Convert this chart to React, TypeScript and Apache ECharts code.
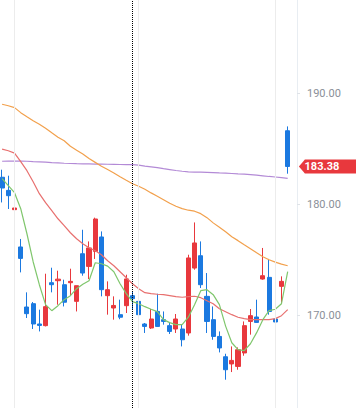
import React, { useEffect, useRef } from 'react';
import * as echarts from 'echarts';

// 48 slots: 47 trading days + 1 empty slot on the right
const categories: string[] = Array.from({ length: 48 }, (_, i) => `D${i + 1}`);

const opens = [182.41, 181.23, 179.49, 176.13, 170.72, 171.02, 169.19, 169.04, 172.91, 173.09,
  172.73, 172.91, 171.23, 175.52, 174.38, 175.73, 177.03, 171.74, 170.63, 170.03,
  170.84, 171.74, 171.23, 169.19, 168.83, 170.32, 169.58, 169.04, 168.74, 168.74,
  168.38, 174.23, 175.34, 171.68, 169.58, 168.07, 166.24, 165.59, 165.37, 166.58,
  169.42, 169.82, 173.24, 173.39, 169.64, 172.58, 186.60];
const closes = [181.44, 180.75, 179.64, 175.10, 170.12, 169.19, 169.06, 170.75, 172.73, 173.23,
  171.15, 173.03, 172.64, 173.78, 176.04, 178.65, 172.28, 172.28, 170.86, 169.80,
  173.25, 171.47, 170.03, 168.97, 169.64, 168.97, 169.42, 168.52, 169.64, 167.77,
  175.14, 176.49, 172.73, 169.42, 168.07, 167.03, 165.07, 165.91, 166.87, 169.04,
  169.94, 169.33, 173.54, 170.32, 169.37, 173.03, 183.38];
const highs = [183.09, 182.55, 180.45, 176.85, 172.04, 171.17, 170.48, 173.72, 174.26, 173.99,
  173.18, 174.17, 172.64, 177.68, 176.63, 178.77, 177.53, 173.03, 171.68, 171.38,
  173.63, 172.10, 171.38, 169.28, 170.54, 171.92, 170.32, 169.28, 170.09, 169.13,
  175.43, 178.34, 176.63, 173.78, 170.77, 168.52, 166.51, 167.17, 167.08, 169.42,
  170.54, 171.38, 176.04, 175.05, 171.92, 173.48, 186.99];
const lows = [180.14, 179.55, 177.39, 173.84, 169.73, 168.74, 168.52, 168.97, 172.04, 170.93,
  170.77, 171.74, 170.32, 173.54, 173.24, 175.05, 171.68, 170.03, 169.58, 169.62,
  170.18, 170.52, 169.58, 168.38, 168.74, 168.95, 169.13, 168.29, 168.38, 167.17,
  168.14, 174.08, 172.43, 168.38, 167.77, 166.63, 164.17, 164.86, 165.07, 166.33,
  168.23, 169.28, 173.18, 170.03, 169.13, 171.08, 182.73];

const ma5 = [182.28, 181.65, 181.02, 179.58, 177.32, 174.8, 172.73, 170.93, 170.39, 170.84,
  171.38, 171.74, 172.37, 172.77, 173.09, 174.71, 174.62, 174.4, 173.9, 172.82,
  171.92, 171.2, 171.02, 170.75, 170.52, 170.3, 169.58, 169.31, 169.13, 169.13,
  169.8, 170.93, 172.19, 172.28, 171.83, 170.93, 169.0, 167.5, 166.88, 166.79,
  167.41, 168.41, 169.58, 170.39, 170.52, 171.02, 173.9];
const ma20 = [184.94, 184.8, 184.58, 183.81, 183.0, 182.0, 180.93, 180.12, 179.4, 178.67,
  178.05, 177.41, 176.87, 176.42, 176.06, 175.79, 175.43, 174.89, 174.44, 173.9,
  173.36, 172.82, 172.37, 172.01, 171.92, 171.87, 171.83, 171.74, 171.65, 171.6,
  171.65, 171.69, 171.56, 171.29, 171.02, 170.57, 170.3, 170.03, 169.8, 169.67,
  169.58, 169.58, 169.58, 169.58, 169.67, 169.94, 170.48];
const ma60 = [188.99, 188.85, 188.68, 188.23, 187.86, 187.5, 187.19, 186.83, 186.42, 186.02,
  185.7, 185.2, 184.85, 184.5, 184.1, 183.75, 183.4, 183.1, 182.8, 182.46,
  182.14, 181.83, 181.6, 181.33, 181.0, 180.7, 180.39, 180.07, 179.8, 179.58,
  179.44, 179.35, 179.13, 178.77, 178.3, 177.9, 177.5, 177.05, 176.7, 176.33,
  175.97, 175.6, 175.25, 174.98, 174.76, 174.58, 174.44];
const ma120 = [183.85, 183.86, 183.87, 183.86, 183.85, 183.82, 183.8, 183.77, 183.73, 183.7,
  183.67, 183.65, 183.63, 183.62, 183.61, 183.6, 183.59, 183.58, 183.57, 183.56,
  183.55, 183.54, 183.5, 183.42, 183.35, 183.27, 183.18, 183.1, 183.02, 182.95,
  182.9, 182.88, 182.87, 182.85, 182.83, 182.8, 182.78, 182.75, 182.72, 182.7,
  182.65, 182.6, 182.54, 182.48, 182.43, 182.37, 182.31];

const periodLines = [2, 22, 44];
const markerIndex = 21;
const lastPrice = 183.38;

const UP = '#e8383d';
const DOWN = '#1b79e0';

export default function App() {
  const ref = useRef<HTMLDivElement>(null);
  useEffect(() => {
    const chart = echarts.init(ref.current!, null, { renderer: 'svg' });
    const candles = opens.map((o, i) => [o, closes[i], lows[i], highs[i]]);
    const line = (name: string, data: number[], color: string) => ({
      name,
      type: 'line',
      data,
      symbol: 'none',
      showSymbol: false,
      smooth: false,
      silent: true,
      z: 3,
      lineStyle: { color, width: 1.2 },
    });
    chart.setOption({
      animation: false,
      backgroundColor: '#ffffff',
      grid: { left: 0, right: 59, top: 0, bottom: 0, containLabel: false, outerBoundsMode: 'none' },
      xAxis: {
        type: 'category',
        data: categories,
        boundaryGap: true,
        axisLine: { show: false },
        axisTick: { show: false },
        axisLabel: { show: false },
        splitLine: { show: false },
      },
      yAxis: {
        type: 'value',
        position: 'right',
        min: 160,
        max: 200,
        interval: 10,
        axisLine: { show: true, lineStyle: { color: '#e8edf2', width: 1 } },
        axisTick: { show: true, length: 3, lineStyle: { color: '#dfe3e8' } },
        splitLine: { show: false },
        axisLabel: {
          margin: 10,
          color: '#8a8f98',
          fontSize: 11,
          showMinLabel: false,
          showMaxLabel: false,
          fontFamily: 'Roboto, "Noto Sans", sans-serif',
          formatter: (v: number) => v.toFixed(2),
        },
      },
      series: [
        {
          name: 'guides',
          type: 'line',
          data: [],
          z: 1,
          silent: true,
          markLine: {
            symbol: 'none',
            silent: true,
            label: { show: false },
            data: [
              ...periodLines.map((i) => ({ xAxis: categories[i], lineStyle: { color: '#ececec', width: 1, type: 'solid' } })),
              { xAxis: categories[markerIndex], lineStyle: { color: '#000000', width: 1, type: [1, 1] } },
            ],
          },
        },
        {
          name: 'price',
          type: 'candlestick',
          data: candles,
          barWidth: 4.6,
          z: 2,
          clip: false,
          itemStyle: {
            color: UP,
            color0: DOWN,
            borderColor: UP,
            borderColor0: DOWN,
            borderWidth: 1,
          },
          markPoint: {
            silent: true,
            symbol: 'path://M0,7L6,0L70,0L70,14L6,14Z',
            symbolSize: [70, 14],
            symbolKeepAspect: false,
            symbolOffset: [40, 0],
            itemStyle: { color: UP },
            label: {
              show: true,
              position: 'inside',
              offset: [-12, 0],
              color: '#ffffff',
              fontSize: 11,
              fontWeight: 'bold',
              fontFamily: 'Roboto, "Noto Sans", sans-serif',
              formatter: () => lastPrice.toFixed(2),
            },
            data: [{ coord: [categories[47], lastPrice], value: lastPrice }],
          },
        },
        line('MA120', ma120, '#b38ad6'),
        line('MA60', ma60, '#f2a04c'),
        line('MA20', ma20, '#e8706f'),
        line('MA5', ma5, '#7fc66c'),
      ],
    });
    return () => chart.dispose();
  }, []);
  return (
    <div
      ref={ref}
      style={{ position: 'fixed', left: -1, top: -18, width: 357, height: 444, background: '#fff' }}
    />
  );
}
